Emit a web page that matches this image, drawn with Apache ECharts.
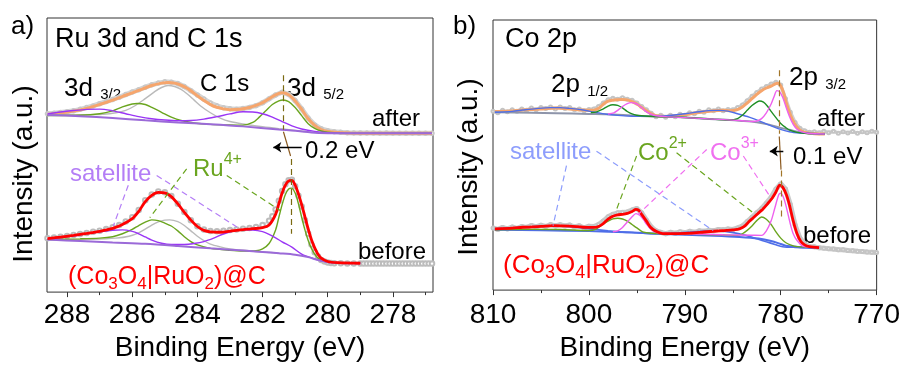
<!DOCTYPE html>
<html>
<head>
<meta charset="utf-8">
<script src="https://cdn.jsdelivr.net/npm/echarts@6/dist/echarts.min.js"></script>
<style>
  html, body { margin: 0; padding: 0; background: #fff; }
  #chart { width: 903px; height: 367px; }
</style>
</head>
<body>
<div id="chart"></div>
<script>
// ---------- axis ticks ----------
const ruTicks = [278, 280, 282, 284, 286, 288];
const ruMinorTicks = [277, 279, 281, 283, 285, 287];
const coTicks = [770, 780, 790, 800, 810];
const coMinorTicks = [775, 785, 795, 805];

// ---------- Ru 3d / C 1s, after (binding energy eV, intensity a.u.) ----------
const ruAfterRaw = [[288.6,185.5],[288.4,186],[288.2,186.8],[288.0,187.6],[287.8,188.5],[287.6,190],[287.4,191.8],[287.2,193.5],[287.0,195.8],[286.8,198],[286.6,200.2],[286.4,202.5],[286.2,205.2],[286.0,207.8],[285.8,210.2],[285.6,212.8],[285.4,215.2],[285.2,217],[285.0,218.3],[284.8,218],[284.6,216.5],[284.4,213.4],[284.2,209.2],[284.0,204.8],[283.8,200.6],[283.6,196.5],[283.4,193.6],[283.2,191.6],[283.0,190.6],[282.8,190.2],[282.6,190.8],[282.4,192],[282.2,193.8],[282.0,196.8],[281.8,200.8],[281.6,204.8],[281.4,207.6],[281.2,205.5],[281.0,199],[280.8,190.5],[280.6,181],[280.4,174],[280.2,170],[280.0,168],[279.8,167],[279.6,166.4],[279.4,166],[279.2,165.8],[279.0,165.7],[278.8,165.6],[278.6,165.6],[278.4,165.5],[278.2,165.6],[278.0,165.5],[277.8,165.5],[277.6,165.4],[277.4,165.5],[277.2,165.4],[277.0,165.4],[276.8,165.4]];
const ruAfterFit = [[288.6,184.7],[288.2,186.3],[287.8,188.2],[287.4,191],[287.0,195],[286.6,199.5],[286.2,204.5],[285.8,209.5],[285.4,214.5],[285.1,217],[284.9,217.7],[284.7,217],[284.5,214.8],[284.3,211.5],[284.1,206.5],[283.9,201.5],[283.7,197],[283.5,193.2],[283.2,190.5],[283.0,189.7],[282.7,190.2],[282.4,192],[282.2,194.2],[282.0,197],[281.8,201],[281.6,205],[281.4,207],[281.2,205],[281.0,198.7],[280.8,190],[280.6,180.3],[280.4,173.5],[280.2,169.3],[280.0,167.3],[279.7,166.2],[279.3,165.7],[278.5,165.4],[276.8,165.3]];
const ruAfterC1s = [[288.6,184.3],[287.6,184.5],[286.9,185],[286.5,186.5],[286.2,189],[285.9,194],[285.6,201],[285.3,208.5],[285.1,212.5],[284.9,214.5],[284.7,213.5],[284.5,210.5],[284.3,205.5],[284.1,199.5],[283.9,193.5],[283.6,186.5],[283.3,181],[283.0,177.5],[282.6,175],[282.0,172.2],[281.5,170.2],[281.0,168.4],[280.5,166.6],[280.0,165.6],[279.0,165.3],[276.8,165.3]];
const ruAfterRu4 = [[288.6,183.7],[287.6,184],[287.0,185.5],[286.6,188.5],[286.3,192.5],[286.0,195.5],[285.85,196],[285.6,195],[285.4,192],[285.1,187],[284.8,182],[284.5,178.5],[284.1,176],[283.6,174.6],[283.0,174],[282.6,173.8],[282.3,176.5],[282.1,182],[281.9,188.5],[281.7,195],[281.5,198.8],[281.37,199.7],[281.2,198],[281.0,192],[280.8,183.5],[280.6,175.3],[280.4,170.5],[280.2,167.7],[280.0,166.4],[279.6,165.6],[278.5,165.3],[276.8,165.3]];
const ruAfterSat = [[288.6,185.3],[288.2,187.3],[287.8,188.8],[287.4,190],[287.0,190.3],[286.6,188.5],[286.2,185.5],[285.8,182.5],[285.4,180.3],[285.0,179],[284.6,178.3],[284.2,178.5],[283.8,180],[283.4,182.5],[283.0,185.3],[282.6,187.5],[282.3,187.3],[282.0,185.5],[281.7,182],[281.4,177.5],[281.1,173],[280.8,169.8],[280.4,167.3],[280.0,166],[279.5,165.5],[278.5,165.3],[276.8,165.3]];
const ruAfterBg = [[288.6,184.3],[287.6,183],[286.6,181],[285.6,178.7],[284.6,176.5],[283.6,174.7],[282.6,172.5],[281.5,169.3],[281.0,168],[280.5,166.3],[280.0,165.5],[279.5,165.3],[276.8,165.3]];

// ---------- Ru 3d / C 1s, before ----------
const ruBeforeRaw = [[288.6,57.5],[288.4,58.3],[288.2,59],[288.0,59.8],[287.8,60.8],[287.6,61.8],[287.4,62.8],[287.2,64],[287.0,65.2],[286.8,66.8],[286.6,68.6],[286.4,71],[286.2,74.6],[286.0,79],[285.8,86.5],[285.6,96.5],[285.4,102.5],[285.2,105.5],[285.0,104.8],[284.8,100.8],[284.6,93],[284.4,84.5],[284.2,76],[284.0,69.8],[283.8,66.3],[283.6,64.8],[283.4,64.5],[283.2,65],[283.0,65.8],[282.8,66.3],[282.6,67.2],[282.4,68],[282.2,69],[282.0,71],[281.8,75.5],[281.7,80],[281.6,87],[281.5,96],[281.4,106],[281.3,113],[281.2,117],[281.1,117.5],[281.0,111],[280.9,101],[280.8,90],[280.7,76],[280.6,62],[280.5,51],[280.4,43],[280.3,38.5],[280.2,35],[280.1,33.5],[280.0,32.5],[279.9,32],[279.8,31.8],[279.6,31.6],[279.4,31.5],[279.2,31.4],[279.0,31.3],[278.9,31.3],[278.8,31.3],[278.7,31.3],[278.6,31.3],[278.5,31.3],[278.4,31.3],[278.3,31.3],[278.2,31.3],[278.1,31.3],[278.0,31.3],[277.9,31.3],[277.8,31.3],[277.7,31.3],[277.6,31.3],[277.5,31.3],[277.4,31.3],[277.3,31.3],[277.2,31.3],[277.1,31.3],[277.0,31.3],[276.9,31.3],[276.8,31.3]];
const ruBeforeFit = [[288.6,57],[288.2,58.5],[287.8,60.3],[287.4,62.3],[287.0,64.5],[286.6,67.5],[286.3,71.5],[286.0,77.5],[285.8,85],[285.6,95],[285.4,101.5],[285.2,104.5],[285.0,104],[284.8,100.3],[284.6,92.8],[284.4,84],[284.2,76],[284.0,69.5],[283.8,65.5],[283.6,64],[283.3,63.6],[283.0,64.8],[282.6,66.3],[282.3,67.2],[282.0,68.3],[281.8,71],[281.6,82],[281.5,93],[281.4,104],[281.3,112],[281.2,116.5],[281.1,117],[281.0,112],[280.9,103],[280.8,92],[280.7,79.5],[280.6,67],[280.5,56],[280.4,47.5],[280.3,41],[280.2,37],[280.0,33.5],[279.7,32.3],[279.0,31.7]];
const ruBeforeC1s = [[288.6,55.3],[287.2,56.3],[286.5,57.5],[286.1,59.5],[285.8,63],[285.6,66.8],[285.4,71],[285.2,74.3],[285.0,76],[284.85,76.3],[284.6,74.5],[284.4,70.5],[284.2,65],[284.0,59.5],[283.8,55],[283.6,51.3],[283.3,48.5],[283.0,46.5],[282.6,45],[282.2,43.8],[281.8,42.8],[281.5,42]];
const ruBeforeRu4 = [[288.6,56.3],[287.6,56.8],[287.0,57.5],[286.6,59],[286.3,62],[286.0,66.5],[285.8,70.5],[285.6,74],[285.4,76.3],[285.2,75.5],[285.0,73],[284.8,70],[284.6,65],[284.4,59],[284.2,54],[284.0,50.5],[283.6,47],[283.0,45],[282.6,44.3],[282.2,44.6],[282.0,46.5],[281.8,52],[281.6,66],[281.5,79],[281.4,92],[281.3,102.5],[281.2,108],[281.12,109],[281.0,104],[280.9,93],[280.8,79],[280.7,66],[280.6,55],[280.5,47],[280.4,41],[280.3,37],[280.1,34],[279.8,32.6],[279.0,32]];
const ruBeforeSat = [[288.6,56.3],[288.2,58],[287.8,59.8],[287.4,62],[287.0,64],[286.6,65.6],[286.3,66],[286.0,64.5],[285.8,62],[285.6,58.7],[285.4,55.5],[285.1,52.3],[284.8,51],[284.4,51],[284.1,52],[283.8,54],[283.5,57.5],[283.2,61.8],[282.9,64.8],[282.6,66],[282.3,65.8],[282.0,64.2],[281.8,61.5],[281.6,57.8],[281.4,53.7],[281.1,48.2],[280.8,41],[280.5,37.2],[280.2,34.3],[279.9,32.7],[279.5,32],[279.0,31.7]];
const ruBeforeBg = [[288.6,56],[287.6,54.5],[286.6,53],[285.6,51.7],[284.6,49.5],[283.6,47],[282.6,44.8],[282.0,43.3],[281.5,42],[281.0,40.5],[280.6,38],[280.3,35],[280.0,32.8],[279.7,32],[279.0,31.7]];

// ---------- Co 2p, after ----------
const coAfterRaw = [[810,184],[809.5,182.5],[809,185],[808.5,183.5],[808,185.5],[807.5,184],[807,186.5],[806.5,185],[806,187.5],[805.5,185.5],[805,188],[804.5,187],[804,188.5],[803.5,186.5],[803,188.5],[802.5,187],[802,188],[801.5,185.5],[801,186.5],[800.5,184.5],[800,186],[799.5,186.5],[799,189],[798.5,192.5],[798,196],[797.5,197.5],[797,196.5],[796.5,198],[796,196.5],[795.5,195.5],[795,192.5],[794.5,189],[794,185.5],[793.5,182],[793,178.5],[792.5,180],[792,178],[791.5,180],[791,178.5],[790.5,181],[790,180],[789.5,182.5],[789,181.5],[788.5,184],[788,183],[787.5,185.5],[787,184.5],[786.5,186.5],[786,184.5],[785.5,186],[785,185.5],[784.5,188],[784,190.5],[783.5,195],[783,199.5],[782.5,203.5],[782,207],[781.5,209.5],[781,212],[780.5,214],[780,211],[779.5,197],[779,183],[778.5,172.5],[778,166.5],[777.5,164],[777,162.5],[776.5,163],[776,162],[775.5,163.5],[775,162],[774.5,163.5],[774,161.5],[773.5,163],[773,161.8],[772.5,163.2],[772,161.5],[771.5,163],[771,162],[770.5,163.5],[770,162.5]];
const coAfterFit = [[809.8,183.7],[808,184.3],[806.9,185.3],[805,186.5],[803.4,187.3],[802,186.5],[800.6,185.3],[799.6,185],[799.2,186],[798.8,188.5],[798.4,192],[798.0,194.5],[797.5,195.5],[797.0,196],[796.5,196.3],[796.0,195.8],[795.5,194],[795.0,191.5],[794.5,188],[794.0,184.5],[793.5,181.3],[793.0,179.5],[792.0,178.7],[791.0,179.2],[789.5,181.3],[788.0,183.5],[787.0,184.7],[786.0,185],[785.3,184.7],[784.6,185.5],[784.0,188.5],[783.5,192.5],[783.0,197],[782.5,201.5],[782.0,205.3],[781.5,208],[781.0,210],[780.5,212.5],[780.3,212.8],[780.0,210],[779.7,203],[779.4,192],[779.0,180.5],[778.6,172],[778.2,166.5],[777.8,163.5],[777.2,161.8],[776.5,161],[775.4,160.7]];
const coAfterSat = [[809.8,183],[808,184],[806.9,185.3],[805.5,186.8],[804,187.8],[803,187.8],[802,187],[800.6,185.3],[799.5,183.3],[798.2,181],[797,179.8],[795.5,179],[794,178.8],[792.5,179],[791.6,179.7],[790,181.5],[788.5,183.5],[787.5,184.7],[786.5,185],[785.5,184.2],[784.5,181.5],[783.3,178],[782.2,174],[781.2,169.7],[780.2,166],[779.1,163],[778,161.7],[777,161.3],[775.4,160.7]];
const coAfterBg = [[809.8,183],[806,182.5],[803.4,182],[800,181.3],[798.2,181],[796,180],[794.7,179.3],[791.6,178.3],[789,177.2],[787.8,176.3],[786,175.5],[784.3,174.3],[782.5,172.8],[781.2,170.3],[780,167],[779.1,165],[778,162.5],[777,161.3],[775.4,160.7]];
const coAfterCo2 = [[799.8,182.8],[799.2,183.5],[798.6,186],[798.0,189.3],[797.5,190.7],[797.0,190.2],[796.5,187.5],[796.0,183.8],[795.5,181.3],[795.0,180],[794.5,179.5],[793.0,178.7],[791.0,178],[789.0,177.2],[787.0,176],[785.3,175],[784.5,176.5],[784.0,180],[783.5,185],[783.0,190],[782.5,193.5],[782.2,194.7],[781.8,193.5],[781.4,189.5],[781.0,184],[780.5,177.5],[780.0,171.5],[779.5,167.5],[779.0,164.3],[778.3,162.3],[777.5,161.5],[775.4,160.7]];
const coAfterCo3 = [[798.0,181.3],[797.4,182.5],[797.0,185],[796.5,189],[796.0,192],[795.6,193],[795.2,192.3],[794.8,190.3],[794.4,187],[794.0,183.5],[793.5,181],[793.0,179.5],[792.0,178.5],[790.0,177.5],[788.0,176.5],[786.0,175.5],[784.0,174.3],[783.0,173.5],[782.5,174],[782.0,176.5],[781.5,182.5],[781.0,191.5],[780.7,199],[780.4,205.3],[780.1,204],[779.8,198.5],[779.5,190],[779.1,179],[778.7,170.5],[778.3,165.5],[777.8,162.8],[777.2,161.5],[775.4,160.7]];

// ---------- Co 2p, before ----------
const coBeforeRaw = [[810,64],[809.5,62.5],[809,64.5],[808.5,63],[808,65],[807.5,63.5],[807,65.5],[806.5,64.5],[806,66.5],[805.5,65],[805,66.8],[804.5,65.5],[804,67.5],[803.5,66],[803,67.3],[802.5,66],[802,67],[801.5,65],[801,66.3],[800.5,64],[800,65.8],[799.5,65.5],[799,67.5],[798.5,71],[798,75.5],[797.5,78],[797,79.5],[796.5,80],[796,80.5],[795.5,82.5],[795,84],[794.5,79.5],[794,72],[793.5,65],[793,61],[792.5,59.5],[792,58],[791.5,59.5],[791,58.5],[790.5,60],[790,59],[789.5,60.5],[789,59.5],[788.5,61],[788,60.5],[787.5,61.5],[787,61],[786.5,62.5],[786,62],[785.5,63],[785,62.5],[784.5,64],[784,66],[783.5,70.5],[783,75],[782.5,79.5],[782,84],[781.5,89.5],[781,95.5],[780.5,104],[780,109.5],[779.5,104],[779,88],[778.5,67],[778,53.5],[777.5,47.5],[777,45],[776.5,44.5],[776,43.5],[775.5,43.2],[775,42.5],[774.5,42.3],[774,41.6],[773.5,41.5],[773,40.8],[772.5,40.6],[772,40],[771.5,39.8],[771,39.2],[770.5,39],[770,38.6]];
const coBeforeFit = [[809.8,63],[808,63.8],[806.9,64.7],[805,65.5],[803.7,66.3],[802,65.8],[800.6,64.7],[799.5,64.5],[799.0,65.5],[798.5,68.5],[798.0,73],[797.5,76],[797.0,77.5],[796.5,78],[796.0,79],[795.5,81],[795.1,83],[794.8,82],[794.5,78],[794.0,71],[793.6,65],[793.0,60.5],[792.3,58.2],[791.0,58.2],[789.5,58.7],[788.0,59.8],[786.0,61.3],[785.0,62],[784.3,63],[783.8,65.5],[783.3,70.5],[782.8,75],[782.3,79.5],[781.9,83],[781.4,88.5],[780.9,94.5],[780.5,101],[780.1,108],[779.8,106],[779.4,98],[779.1,88],[778.7,71.3],[778.3,58],[777.9,50],[777.5,46.5],[777.0,44.7],[776.0,43.7]];
const coBeforeSat = [[809.8,63],[806.9,64.7],[803.7,66.3],[801.5,65],[799.9,63],[798,61],[796.5,59.7],[795,59],[793,58],[791,58.7],[789,60],[787.8,60.7],[786.5,60.5],[785.3,59.7],[784.3,58],[783.3,55.3],[782.4,52.5],[781.5,49.7],[780.6,47],[779.8,44.7],[778.5,44],[776.0,43.7]];
const coBeforeBg = [[809.8,62],[805,61.5],[800,60.7],[796,59.5],[793,58],[790,57],[787,56],[784.3,54.7],[782.3,53],[781,50.5],[780,47.5],[779.3,45.3],[778,44.2],[776,43.7]];
const coBeforeCo2 = [[809.8,62],[806,62.5],[803,62.3],[800,61.3],[799.3,62.5],[798.5,68],[798.0,71],[797.5,73.3],[797.0,74],[796.5,73.2],[796.0,71],[795.5,67.5],[795.0,64],[794.4,60],[793.5,58.5],[792.0,58],[790.0,57.5],[788.0,57.2],[786.0,56.8],[784.5,56.3],[784.0,58],[783.5,61.5],[783.0,66],[782.5,71.5],[782.0,75.3],[781.5,73],[781.0,67.5],[780.5,60],[780.0,53.5],[779.5,49],[779.0,46.5],[778.3,44.7],[776.0,43.7]];
const coBeforeCo3 = [[797.5,60],[797.0,61],[796.5,64.5],[796.0,70],[795.5,75.5],[795.1,78.7],[794.7,77],[794.3,72.5],[794.0,68],[793.5,62.5],[793.0,59.5],[792.0,58.3],[790.0,58],[786.0,57],[783.0,56.5],[782.0,56.3],[781.5,61],[781.0,71.3],[780.6,85],[780.2,98.5],[780.0,99.7],[779.7,95],[779.4,84.7],[779.0,68],[778.7,58],[778.3,51],[777.7,45.3],[777.0,44.3],[776.0,43.7]];

// ---------- annotation guides (data coordinates) ----------
const ruShiftGuide = [[[281.38,225],[281.38,169]], [[281.11,139],[281.11,62]]];
const ruShiftLink = [[281.36,167],[281.14,142]];
const ruShiftArrow = [[281.67,151],[280.80,151]];
const ruSatLeaders = [[[286.12,112],[286.58,70]], [[285.25,122],[282.79,69]]];
const ruRu4Leaders = [[[284.33,128.7],[285.46,78.7]], [[283.10,122],[281.46,86]]];

const coShiftGuide = [[[780.15,226.3],[780.15,161]], [[779.97,123],[779.97,75]]];
const coShiftLink = [[780.15,158],[779.97,124]];
const coShiftArrow = [[781.14,143],[779.73,143]];
const coSatLeaders = [[[802.34,128],[803.74,66.3]], [[799.21,143],[787.04,61.3]]];
const coCo2Leaders = [[[795.03,138],[797.12,83]], [[790.86,141.3],[782.68,78]]];
const coCo3Leaders = [[[787.72,144.7],[794.86,78]], [[783.90,138],[781.12,96.3]]];

// ---------- drawing helpers ----------
const FONT = '"Liberation Sans", Arial, Helvetica, sans-serif';
const C = {
  orange: '#f6a56c', red: '#ff0000', grey: '#bababa',
  green: '#6aa51f', darkGreen: '#1f8f24', purple: '#9a35f5', purpleBg: '#9b6ad8',
  blue: '#4f6ee8', blueBg: '#8e95aa', pink: '#ee60ee',
  satLabelA: '#b47ef6', satLabelB: '#8d9dfc', co3Label: '#f070f0',
  shiftA: '#7b6a12', shiftB: '#a27628'
};

function curve(data, color, width, g) {
  return {
    type: 'line', xAxisIndex: g * 2, yAxisIndex: g, data: data,
    smooth: 0.3, symbol: 'none', showSymbol: false,
    lineStyle: { color: color, width: width }, silent: true, z: 3
  };
}
// measured points: hollow circles over a soft grey band
function rawSeries(data, g, size, ring, band, bandWidth) {
  return {
    type: 'line', xAxisIndex: g * 2, yAxisIndex: g, data: data,
    symbol: 'emptyCircle', symbolSize: size, showSymbol: true,
    itemStyle: { color: ring, borderWidth: 1 },
    lineStyle: { color: band, width: bandWidth }, silent: true, z: 2
  };
}
function segs(list, color, g, dashed, width) {
  return {
    type: 'lines', coordinateSystem: 'cartesian2d', xAxisIndex: g * 2, yAxisIndex: g,
    polyline: false, silent: true, z: 4,
    lineStyle: { color: color, width: width || 1.2, type: dashed ? [6, 4] : 'solid', opacity: 1 },
    data: list.map(c => ({ coords: c }))
  };
}
function arrow(coords, g) {
  return {
    type: 'lines', coordinateSystem: 'cartesian2d', xAxisIndex: g * 2, yAxisIndex: g,
    polyline: false, silent: true, z: 4, symbol: ['arrow', 'none'], symbolSize: 8,
    lineStyle: { color: '#000', width: 1.3, opacity: 1 },
    data: [{ coords: coords }]
  };
}

const measure = document.createElement('canvas').getContext('2d');
function textWidth(t, size) { measure.font = size + 'px ' + FONT; return measure.measureText(t).width; }
// a run of text pieces sharing one baseline; piece = [text, size, baseline shift]
function label(x, base, parts, color) {
  const out = []; let cx = x;
  parts.forEach(p => {
    const t = p[0], s = p[1], dy = p[2] || 0;
    out.push({ type: 'text', x: cx, y: base + dy - 0.31 * s, silent: true,
      style: { text: t, fontSize: s, fontFamily: FONT, fill: color, align: 'left', verticalAlign: 'middle' } });
    cx += textWidth(t, s);
  });
  return out;
}
function yTitle(x, y) {
  return { type: 'text', x: x, y: y, rotation: Math.PI / 2, silent: true,
    style: { text: 'Intensity (a.u.)', fontSize: 28, fontFamily: FONT, fill: '#000', align: 'center', verticalAlign: 'middle' } };
}

function xAxes(grid, min, max, ticks, minor, margin) {
  const base = { gridIndex: grid, type: 'value', inverse: true, min: min, max: max, position: 'bottom',
    splitLine: { show: false } };
  return [
    Object.assign({}, base, {
      axisLine: { show: false },
      axisTick: { show: true, customValues: ticks, length: 5, lineStyle: { color: '#333', width: 1 } },
      axisLabel: { show: true, customValues: ticks, margin: margin, fontSize: 28, fontFamily: FONT, color: '#000',
        showMinLabel: true, showMaxLabel: true, hideOverlap: false },
      name: 'Binding Energy (eV)', nameLocation: 'middle', nameGap: 34,
      nameTextStyle: { fontSize: 28, fontFamily: FONT, color: '#000' }
    }),
    Object.assign({}, base, {
      axisLine: { show: false },
      axisTick: { show: true, customValues: minor, length: 3, lineStyle: { color: '#333', width: 1 } },
      axisLabel: { show: false }
    })
  ];
}

const graphic = []
  .concat(label(11, 35, [['a)', 26]], '#000'))
  .concat(label(55, 48, [['Ru 3d and C 1s', 27]], '#000'))
  .concat(label(64, 96.5, [['3d ', 26], ['3/2', 15, 3.5]], '#000'))
  .concat(label(200, 91.5, [['C 1s', 24]], '#000'))
  .concat(label(287, 96.5, [['3d ', 26], ['5/2', 15, 3.5]], '#000'))
  .concat(label(372, 127, [['after', 24]], '#000'))
  .concat(label(305, 158.5, [['0.2 eV', 24]], '#000'))
  .concat(label(70, 181.5, [['satellite', 24]], C.satLabelA))
  .concat(label(193, 177, [['Ru', 24], ['4+', 16, -12]], C.green))
  .concat(label(358, 260, [['before', 24]], '#000'))
  .concat(label(68, 285, [['(Co', 25], ['3', 17, 5], ['O', 25], ['4', 17, 5], ['|RuO', 25], ['2', 17, 5], [')@C', 25]], C.red))
  .concat(label(453, 35, [['b)', 26]], '#000'))
  .concat(label(505, 48, [['Co 2p', 27]], '#000'))
  .concat(label(551, 93, [['2p ', 26], ['1/2', 15, 4]], '#000'))
  .concat(label(789, 86, [['2p ', 26], ['3/2', 15, 4]], '#000'))
  .concat(label(817, 126.5, [['after', 24]], '#000'))
  .concat(label(510, 159.5, [['satellite', 24]], C.satLabelB))
  .concat(label(638, 161, [['Co', 24], ['2+', 16, -12]], C.green))
  .concat(label(710, 161, [['Co', 24], ['3+', 16, -12]], C.co3Label))
  .concat(label(793, 165, [['0.1 eV', 24]], '#000'))
  .concat(label(803, 244, [['before', 24]], '#000'))
  .concat(label(503, 273.5, [['(Co', 26], ['3', 18, 5], ['O', 26], ['4', 18, 5], ['|RuO', 26], ['2', 18, 5], [')@C', 26]], C.red))
  .concat([yTitle(24, 174), yTitle(469, 167)]);

const series = [
  // Ru 3d / C 1s
  rawSeries(ruAfterRaw, 0, 3.5, '#c8c8c8', '#d4d4d4', 5),
  curve(ruAfterFit, C.orange, 3, 0),
  curve(ruAfterC1s, C.grey, 1.4, 0),
  curve(ruAfterRu4, C.green, 1.4, 0),
  curve(ruAfterSat, C.purple, 1.4, 0),
  curve(ruAfterBg, C.purpleBg, 2, 0),
  rawSeries(ruBeforeRaw, 0, 4.5, '#bcbcbc', '#e0e0e0', 2),
  curve(ruBeforeC1s, C.grey, 1.4, 0),
  curve(ruBeforeRu4, C.green, 1.4, 0),
  curve(ruBeforeSat, C.purple, 1.4, 0),
  curve(ruBeforeBg, C.purpleBg, 2, 0),
  curve(ruBeforeFit, C.red, 2.8, 0),
  segs(ruShiftGuide, C.shiftA, 0, true, 1.2),
  segs([ruShiftLink], '#8b5a20', 0, false, 1.2),
  arrow(ruShiftArrow, 0),
  segs(ruSatLeaders, C.satLabelA, 0, true, 1.2),
  segs(ruRu4Leaders, C.green, 0, true, 1.2),
  // Co 2p
  rawSeries(coAfterRaw, 1, 3, '#c4c4c4', '#cfcfcf', 3.5),
  curve(coAfterFit, C.orange, 3, 1),
  curve(coAfterBg, C.blueBg, 2, 1),
  curve(coAfterSat, C.blue, 1.4, 1),
  curve(coAfterCo2, C.darkGreen, 1.4, 1),
  curve(coAfterCo3, C.pink, 1.4, 1),
  rawSeries(coBeforeRaw, 1, 3, '#c4c4c4', '#cacaca', 5),
  curve(coBeforeBg, C.blue, 2, 1),
  curve(coBeforeSat, C.blue, 1.6, 1),
  curve(coBeforeCo2, C.green, 1.4, 1),
  curve(coBeforeCo3, C.pink, 1.4, 1),
  curve(coBeforeFit, C.red, 2.8, 1),
  segs(coShiftGuide, C.shiftB, 1, true, 1.2),
  segs([coShiftLink], '#8b5a20', 1, false, 1.2),
  arrow(coShiftArrow, 1),
  segs(coSatLeaders, C.satLabelB, 1, true, 1.2),
  segs(coCo2Leaders, C.green, 1, true, 1.2),
  segs(coCo3Leaders, C.co3Label, 1, true, 1.2)
];

const chart = echarts.init(document.getElementById('chart'), null, { renderer: 'canvas' });
chart.setOption({
  animation: false,
  backgroundColor: '#fff',
  textStyle: { fontFamily: FONT },
  grid: [
    { left: 47, top: 18, width: 386, height: 282, show: true, borderColor: '#333', borderWidth: 1, backgroundColor: 'transparent' },
    { left: 493, top: 20, width: 384, height: 278, show: true, borderColor: '#333', borderWidth: 1, backgroundColor: 'transparent' }
  ],
  xAxis: []
    .concat(xAxes(0, 276.77, 288.615, ruTicks, ruMinorTicks, 9))
    .concat(xAxes(1, 770, 810, coTicks, coMinorTicks, 11)),
  yAxis: [
    { gridIndex: 0, type: 'value', min: 2, max: 284, show: false },
    { gridIndex: 1, type: 'value', min: 0, max: 278, show: false }
  ],
  graphic: graphic,
  series: series
});
</script>
</body>
</html>
